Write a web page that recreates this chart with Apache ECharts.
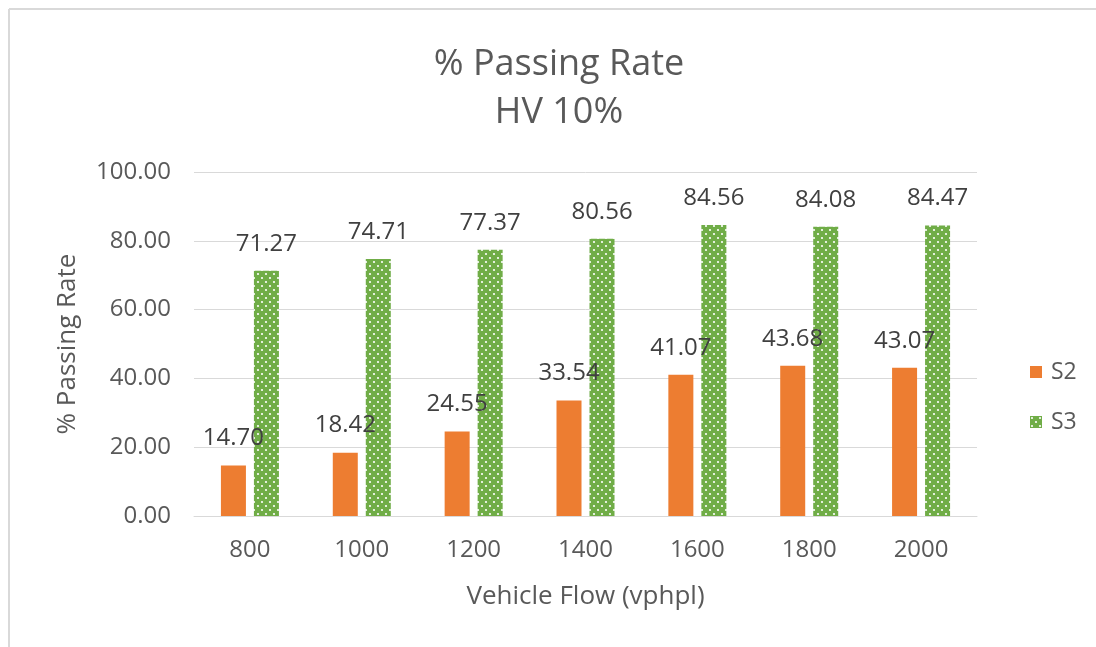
<!DOCTYPE html>
<html>
<head>
<meta charset="utf-8">
<script src="https://cdn.jsdelivr.net/npm/echarts@6/dist/echarts.min.js"></script>
<style>
  html, body { margin: 0; padding: 0; background: #fff; }
  #chart { width: 1096px; height: 647px; }
</style>
</head>
<body>
<div id="chart"></div>
<script>
// Vehicle flow categories (vphpl)
const categories = ['800', '1000', '1200', '1400', '1600', '1800', '2000'];
// % passing rate per scenario
const s2Values = [14.70, 18.42, 24.55, 33.54, 41.07, 43.68, 43.07];
const s3Values = [71.27, 74.71, 77.37, 80.56, 84.56, 84.08, 84.47];

const FONT = '"Open Sans", Lato, sans-serif';

// Dotted green fill for S3
function dotPattern() {
  const c = document.createElement('canvas');
  c.width = 8; c.height = 8;
  const ctx = c.getContext('2d');
  ctx.fillStyle = '#70AD47';
  ctx.fillRect(0, 0, 8, 8);
  ctx.fillStyle = '#ffffff';
  ctx.beginPath(); ctx.arc(2, 2, 1.1, 0, Math.PI * 2); ctx.fill();
  ctx.beginPath(); ctx.arc(6, 6, 1.1, 0, Math.PI * 2); ctx.fill();
  return c;
}
const s3Fill = { image: dotPattern(), repeat: 'repeat' };

const chart = echarts.init(document.getElementById('chart'), null, { renderer: 'canvas' });

const labelStyle = {
  show: true,
  position: 'top',
  distance: 15,
  color: '#404040',
  fontSize: 24,
  fontFamily: FONT,
  formatter: p => p.value.toFixed(2)
};

chart.setOption({
  animation: false,
  backgroundColor: '#ffffff',
  graphic: [
    { type: 'line', shape: { x1: 9, y1: 9, x2: 1096, y2: 9 }, style: { stroke: '#d9d9d9', lineWidth: 2 } },
    { type: 'line', shape: { x1: 9, y1: 9, x2: 9, y2: 647 }, style: { stroke: '#d9d9d9', lineWidth: 2 } }
  ],
  title: {
    text: '% Passing Rate\nHV 10%',
    left: 554,
    top: 36,
    textAlign: 'center',
    textStyle: {
      color: '#595959',
      fontSize: 36,
      fontWeight: 'normal',
      fontFamily: FONT,
      lineHeight: 48
    }
  },
  legend: {
    orient: 'vertical',
    left: 1025,
    top: 355,
    itemWidth: 12,
    itemHeight: 12,
    itemGap: 26,
    textStyle: { color: '#595959', fontSize: 23, fontFamily: FONT, lineHeight: 24, padding: [0, 0, 0, 4] },
    data: [
      { name: 'S2', icon: 'rect' },
      { name: 'S3', icon: 'rect' }
    ]
  },
  grid: { left: 194, right: 119, top: 172, bottom: 131 },
  xAxis: {
    type: 'category',
    data: categories,
    name: 'Vehicle Flow (vphpl)',
    nameLocation: 'middle',
    nameGap: 68,
    nameTextStyle: { color: '#595959', fontSize: 26, fontFamily: FONT },
    axisLine: { lineStyle: { color: '#d9d9d9', width: 1 } },
    axisTick: { show: false },
    axisLabel: { color: '#595959', fontSize: 24, fontFamily: FONT, margin: 22 }
  },
  yAxis: {
    type: 'value',
    min: 0,
    max: 100,
    interval: 20,
    name: '% Passing Rate',
    nameLocation: 'middle',
    nameGap: 113,
    nameRotate: 90,
    nameTextStyle: { color: '#595959', fontSize: 26, fontFamily: FONT },
    axisLine: { show: false },
    axisTick: { show: false },
    splitLine: { lineStyle: { color: '#d9d9d9', width: 1 } },
    axisLabel: {
      color: '#595959', fontSize: 24, fontFamily: FONT, margin: 23,
      formatter: v => v.toFixed(2)
    }
  },
  series: [
    {
      name: 'S2',
      type: 'bar',
      data: s2Values,
      barWidth: 25,
      barGap: '32%',
      itemStyle: { color: '#ED7D31' },
      label: labelStyle,
      z: 2
    },
    {
      name: 'S3',
      type: 'bar',
      data: s3Values,
      barWidth: 25,
      itemStyle: { color: s3Fill },
      label: labelStyle,
      z: 1
    }
  ]
});
</script>
</body>
</html>
